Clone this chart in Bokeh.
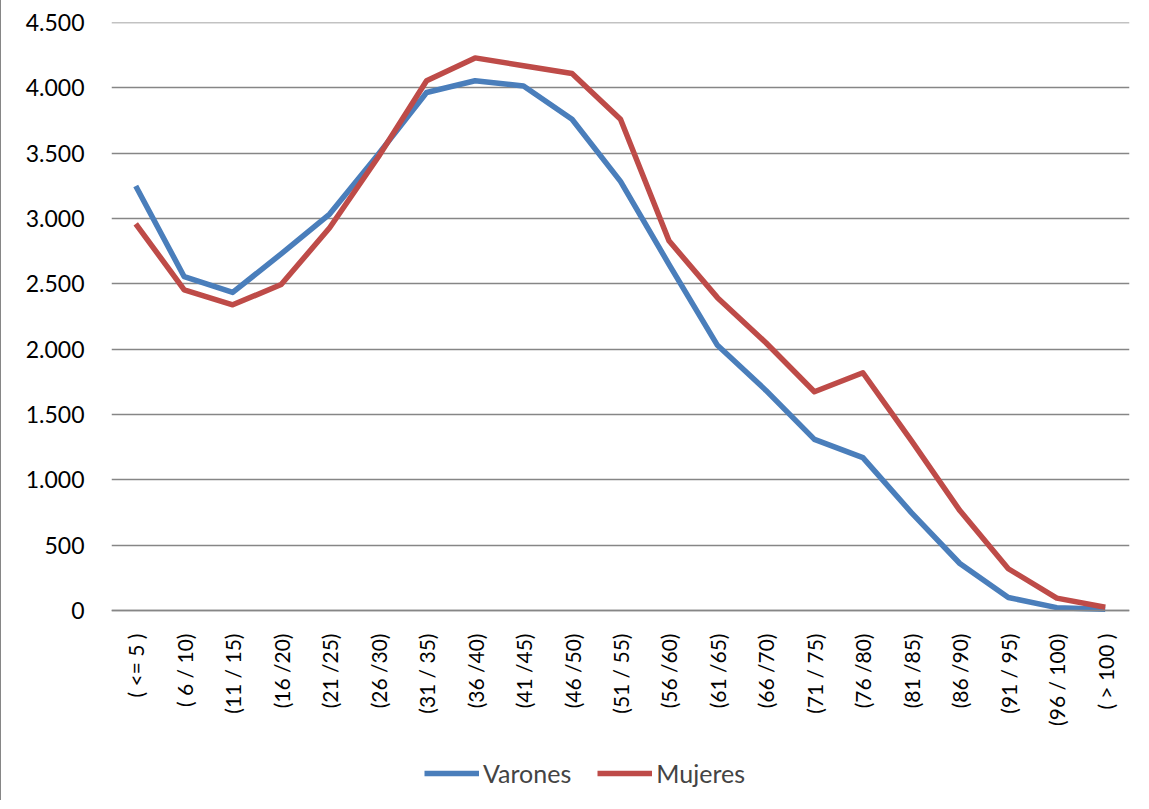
from bokeh.plotting import figure
from bokeh.models import FactorRange, Range1d, FixedTicker, Legend, LegendItem, ColumnDataSource
from bokeh.embed import file_html
from bokeh.resources import INLINE
import math

categories = ["( <= 5 )", "( 6 / 10)", "(11 / 15)", "(16 /20)", "(21 /25)", "(26 /30)",
              "(31 / 35)", "(36 /40)", "(41 /45)", "(46 /50)", "(51 / 55)", "(56 /60)",
              "(61 /65)", "(66 /70)", "(71 / 75)", "(76 /80)", "(81 /85)", "(86 /90)",
              "(91 / 95)", "(96 / 100)", "( > 100 )"]
varones = [3250, 2555, 2435, 2730, 3035, 3490, 3965, 4055, 4015, 3760, 3285, 2650,
           2030, 1685, 1310, 1170, 750, 360, 100, 22, 10]
mujeres = [2960, 2455, 2340, 2495, 2930, 3470, 4055, 4230, 4170, 4110, 3760, 2830,
           2395, 2050, 1675, 1820, 1300, 765, 320, 95, 25]
y_ticks = [0, 500, 1000, 1500, 2000, 2500, 3000, 3500, 4000, 4500]
y_tick_labels = ["0", "500", "1.000", "1.500", "2.000", "2.500", "3.000", "3.500", "4.000", "4.500"]

src = ColumnDataSource(dict(cat=categories, v=varones, m=mujeres))

# frame extends below zero so the rotated category labels and legend sit inside it
p = figure(frame_width=1018, frame_height=778, output_backend="svg", toolbar_location=None,
           x_range=FactorRange(*categories, range_padding=0),
           y_range=Range1d(-1454, 4501),
           min_border_left=110, min_border_right=13, min_border_top=22, min_border_bottom=0)
p.outline_line_color = None
p.background_fill_color = "white"
p.border_fill_color = "white"
p.styles = {"border-left": "1.5px solid #868686"}

FONT = "Lato"
p.yaxis.ticker = FixedTicker(ticks=y_ticks)
p.yaxis.major_label_overrides = {t: l for t, l in zip(y_ticks, y_tick_labels)}
p.yaxis.axis_line_color = None
p.yaxis.major_tick_line_color = None
p.yaxis.minor_tick_line_color = None
p.yaxis.major_label_standoff = 21
p.yaxis.major_label_text_font = FONT
p.yaxis.major_label_text_font_size = "23px"
p.yaxis.major_label_text_color = "#000000"

p.xaxis.fixed_location = 0
p.xaxis.axis_line_color = "#868686"
p.xaxis.axis_line_width = 1.5
p.xaxis.major_tick_line_color = None
p.xaxis.minor_tick_line_color = None
p.xaxis.major_label_orientation = math.pi / 2
p.xaxis.major_label_standoff = 17
p.xaxis.major_label_text_font = FONT
p.xaxis.major_label_text_font_size = "21px"
p.xaxis.major_label_text_color = "#000000"

p.xgrid.grid_line_color = None
p.ygrid.ticker = FixedTicker(ticks=y_ticks)
p.ygrid.grid_line_color = "#868686"
p.ygrid.grid_line_width = 1.5

r1 = p.line("cat", "v", source=src, line_color="#4a7ebb", line_width=5.5, line_join="round")
r2 = p.line("cat", "m", source=src, line_color="#be4b48", line_width=5.5, line_join="round")

legend = Legend(items=[LegendItem(label="Varones", renderers=[r1]),
                       LegendItem(label="Mujeres", renderers=[r2])],
                orientation="horizontal", location=(313, 12),
                border_line_color=None, background_fill_alpha=0,
                label_text_font=FONT, label_text_font_size="25px",
                glyph_width=55, glyph_height=20, label_standoff=4, spacing=26,
                padding=0, margin=0)
p.add_layout(legend)

open("out.html", "w").write(file_html(p, INLINE))
